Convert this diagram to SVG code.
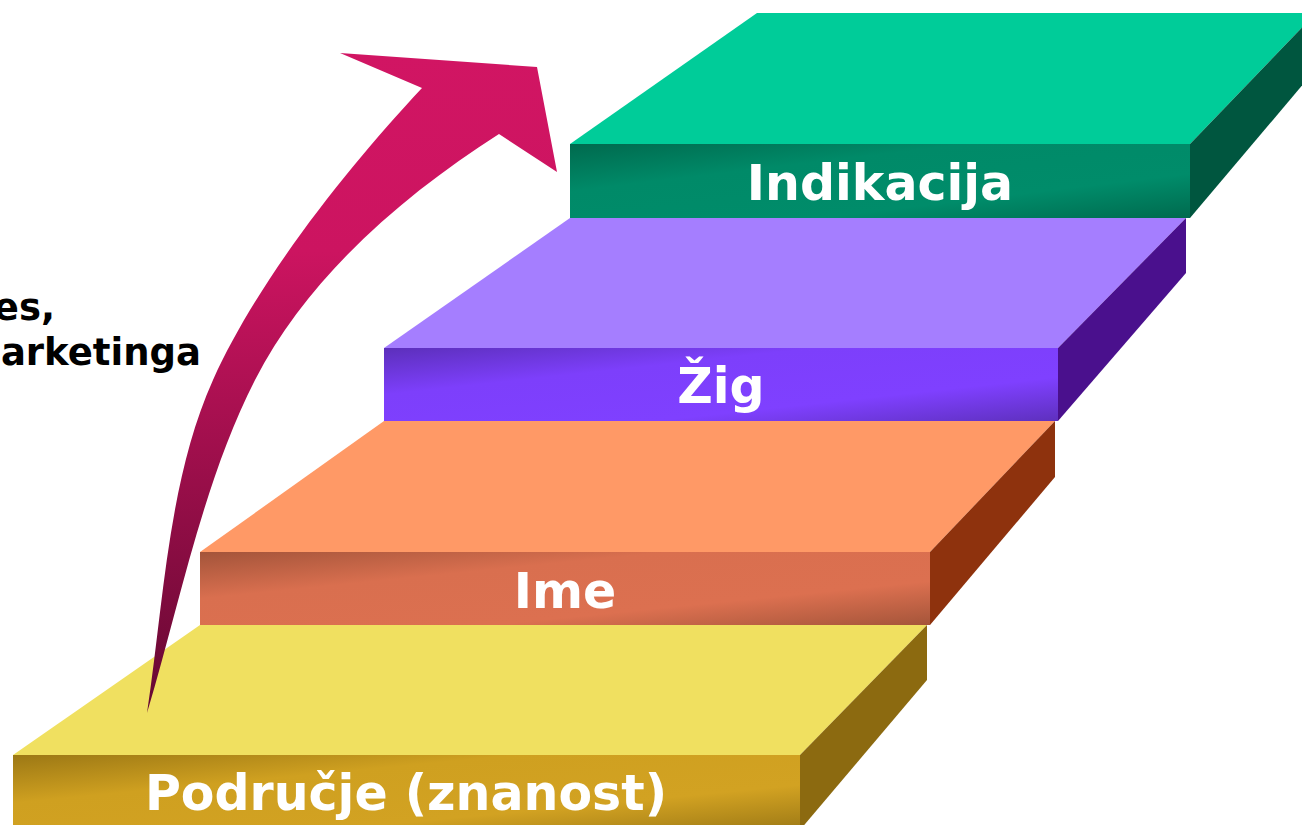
<svg xmlns="http://www.w3.org/2000/svg" width="1302" height="825" viewBox="0 0 1302 825">
<style>
.lbl{font-family:"DejaVu Sans","Verdana",sans-serif;font-weight:bold;font-size:49px;fill:#ffffff;text-anchor:middle}
.side{font-family:"DejaVu Sans","Verdana",sans-serif;font-weight:bold;font-size:37px;fill:#000000;text-anchor:end}
</style>
<defs>
<linearGradient id="gGreen" x1="0" y1="0" x2="1" y2="1">
<stop offset="0" stop-color="#006A4E"/><stop offset="0.32" stop-color="#008A68"/><stop offset="0.7" stop-color="#008C6A"/><stop offset="1" stop-color="#006A4E"/>
</linearGradient>
<linearGradient id="gPurple" x1="0" y1="0" x2="1" y2="1">
<stop offset="0" stop-color="#5C2FBB"/><stop offset="0.32" stop-color="#7D3FFB"/><stop offset="0.7" stop-color="#7F40FF"/><stop offset="1" stop-color="#5E30BE"/>
</linearGradient>
<linearGradient id="gOrange" x1="0" y1="0" x2="1" y2="1">
<stop offset="0" stop-color="#A3543A"/><stop offset="0.32" stop-color="#D96F4F"/><stop offset="0.7" stop-color="#DC7050"/><stop offset="1" stop-color="#A5553A"/>
</linearGradient>
<linearGradient id="gYellow" x1="0" y1="0" x2="1" y2="1">
<stop offset="0" stop-color="#9C7815"/><stop offset="0.32" stop-color="#CFA020"/><stop offset="0.7" stop-color="#D2A222"/><stop offset="1" stop-color="#9E7A16"/>
</linearGradient>
<linearGradient id="gArrow" gradientUnits="userSpaceOnUse" x1="0" y1="53" x2="0" y2="713">
<stop offset="0" stop-color="#D11563"/><stop offset="0.3" stop-color="#CC1460"/><stop offset="1" stop-color="#650832"/>
</linearGradient>
</defs>

<g id="step-indikacija">
<polygon points="570,144 757,13 1316,13 1190,144" fill="#00CC99"/>
<polygon points="1190,144 1316,13 1316,69 1190,218" fill="#00563F"/>
<rect x="570" y="144" width="620" height="74" fill="url(#gGreen)"/>
<text class="lbl" x="880" y="200">Indikacija</text>
</g>

<g id="step-zig">
<polygon points="384,348 570,218 1186,218 1058,348" fill="#A57EFF"/>
<polygon points="1058,348 1186,218 1186,273 1058,421" fill="#4A108D"/>
<rect x="384" y="348" width="674" height="73" fill="url(#gPurple)"/>
<text class="lbl" x="721" y="403">Žig</text>
</g>

<g id="step-ime">
<polygon points="200,552 384,421 1055,421 930,552" fill="#FF9966"/>
<polygon points="930,552 1055,421 1055,477 930,625" fill="#8E320D"/>
<rect x="200" y="552" width="730" height="73" fill="url(#gOrange)"/>
<text class="lbl" x="565" y="608">Ime</text>
</g>

<g id="step-podrucje">
<polygon points="13,755 200,625 927,625 800,755" fill="#F0E060"/>
<polygon points="800,755 927,625 927,680 800,830" fill="#8C6A10"/>
<rect x="13" y="755" width="787" height="75" fill="url(#gYellow)"/>
<text class="lbl" x="406" y="810">Područje (znanost)</text>
</g>

<g id="side-text">
<text class="side" x="55" y="320">es,</text>
<text class="side" x="201" y="365">arketinga</text>
</g>

<g id="connectors">
<path d="M422,88 L340,53 L537,67 L557,172 L499,134 C402,196 307,278 255,380 C203,482 180,603 147,713 C163.5,604 168,480 213,380 C258,280 347,168 422,88 Z" fill="url(#gArrow)"/>
</g>
</svg>
